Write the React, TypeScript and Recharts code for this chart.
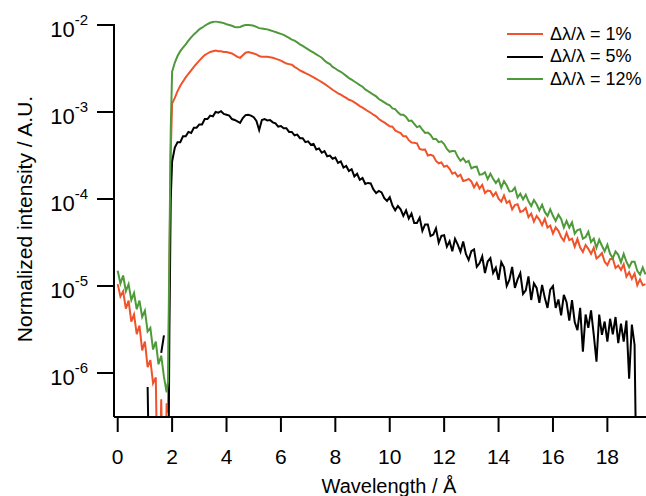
import { LineChart, Line, XAxis, YAxis, Legend, ReferenceLine } from "recharts";

const FONT = '"Liberation Sans", Arial, Helvetica, sans-serif';

// wavelength grid (Å)
const wavelength = [
  0, 0.1, 0.2, 0.3, 0.4, 0.5, 0.6, 0.7, 0.8, 0.9,
  1.0, 1.1, 1.2, 1.3, 1.4, 1.5, 1.6, 1.7, 1.8, 1.85, 1.9, 1.95,
  2.0, 2.1, 2.2, 2.3, 2.4, 2.5, 2.6, 2.7, 2.8, 2.9,
  3.0, 3.1, 3.2, 3.3, 3.4, 3.5, 3.6, 3.7, 3.8, 3.9,
  4.0, 4.1, 4.2, 4.3, 4.4, 4.5, 4.6, 4.7, 4.8, 4.9,
  5.0, 5.1, 5.2, 5.3, 5.4, 5.5, 5.6, 5.7, 5.8, 5.9,
  6.0, 6.1, 6.2, 6.3, 6.4, 6.5, 6.6, 6.7, 6.8, 6.9,
  7.0, 7.1, 7.2, 7.3, 7.4, 7.5, 7.6, 7.7, 7.8, 7.9,
  8.0, 8.1, 8.2, 8.3, 8.4, 8.5, 8.6, 8.7, 8.8, 8.9,
  9.0, 9.1, 9.2, 9.3, 9.4, 9.5, 9.6, 9.7, 9.8, 9.9,
  10.0, 10.1, 10.2, 10.3, 10.4, 10.5, 10.6, 10.7, 10.8, 10.9,
  11.0, 11.1, 11.2, 11.3, 11.4, 11.5, 11.6, 11.7, 11.8, 11.9,
  12.0, 12.1, 12.2, 12.3, 12.4, 12.5, 12.6, 12.7, 12.8, 12.9,
  13.0, 13.1, 13.2, 13.3, 13.4, 13.5, 13.6, 13.7, 13.8, 13.9,
  14.0, 14.1, 14.2, 14.3, 14.4, 14.5, 14.6, 14.7, 14.8, 14.9,
  15.0, 15.1, 15.2, 15.3, 15.4, 15.5, 15.6, 15.7, 15.8, 15.9,
  16.0, 16.1, 16.2, 16.3, 16.4, 16.5, 16.6, 16.7, 16.8, 16.9,
  17.0, 17.1, 17.2, 17.3, 17.4, 17.5, 17.6, 17.7, 17.8, 17.9,
  18.0, 18.1, 18.2, 18.3, 18.4, 18.5, 18.6, 18.7, 18.8, 18.9,
  19.0, 19.1, 19.2, 19.3, 19.4,
];

// Δλ/λ = 1 %  (1e-8 = dropped below the axis floor)
const res1 = [
  1.05e-5, 7.6e-6, 8.7e-6, 5.5e-6, 6.8e-6, 3.9e-6, 4.7e-6, 2.8e-6, 3.5e-6, 1.82e-6,
  2.3e-6, 1.17e-6, 1.41e-6, 7.6e-7, 8.9e-7, 1e-8, 5e-7, 1e-8, 4.5e-7, 3.5e-7, 1.5e-5, 3.5e-4,
  1.25e-3, 1.45e-3, 1.74e-3, 2.0e-3, 2.24e-3, 2.5e-3, 2.75e-3, 3.0e-3, 3.3e-3, 3.6e-3,
  3.9e-3, 4.2e-3, 4.5e-3, 4.7e-3, 4.9e-3, 5.0e-3, 5.1e-3, 5.0e-3, 5.0e-3, 4.9e-3,
  4.9e-3, 4.8e-3, 4.7e-3, 4.5e-3, 4.3e-3, 4.2e-3, 4.5e-3, 4.8e-3, 4.9e-3, 4.8e-3,
  4.7e-3, 4.6e-3, 4.4e-3, 4.3e-3, 4.3e-3, 4.3e-3, 4.25e-3, 4.2e-3, 4.1e-3, 4.0e-3,
  3.9e-3, 3.75e-3, 3.6e-3, 3.55e-3, 3.5e-3, 3.3e-3, 3.16e-3, 3.0e-3, 2.9e-3, 2.8e-3,
  2.7e-3, 2.6e-3, 2.5e-3, 2.4e-3, 2.3e-3, 2.2e-3, 2.1e-3, 2.0e-3, 1.9e-3, 1.8e-3,
  1.72e-3, 1.64e-3, 1.58e-3, 1.51e-3, 1.45e-3, 1.38e-3, 1.35e-3, 1.29e-3, 1.23e-3, 1.17e-3,
  1.12e-3, 1.07e-3, 1.02e-3, 9.8e-4, 9.3e-4, 8.9e-4, 8.3e-4, 7.9e-4, 7.6e-4, 7.2e-4,
  6.84e-4, 6.78e-4, 6.14e-4, 5.92e-4, 5.73e-4, 5.25e-4, 5.27e-4, 4.74e-4, 4.46e-4, 4.44e-4,
  4.37e-4, 3.77e-4, 3.68e-4, 3.7e-4, 3.16e-4, 3.22e-4, 3.13e-4, 2.74e-4, 2.57e-4, 2.63e-4,
  2.35e-4, 2.42e-4, 2.22e-4, 1.95e-4, 2.02e-4, 1.81e-4, 1.9e-4, 1.61e-4, 1.64e-4, 1.7e-4,
  1.59e-4, 1.36e-4, 1.53e-4, 1.32e-4, 1.45e-4, 1.17e-4, 1.25e-4, 1.23e-4, 1.08e-4, 1.19e-4,
  1.01e-4, 9.3e-5, 1.1e-4, 9.0e-5, 9.5e-5, 7.6e-5, 8.5e-5, 8.7e-5, 7.1e-5, 7.3e-5,
  7.9e-5, 6.2e-5, 6.8e-5, 5.5e-5, 6.4e-5, 5.8e-5, 5.0e-5, 5.9e-5, 4.7e-5, 4.95e-5,
  4.0e-5, 4.7e-5, 4.3e-5, 3.66e-5, 3.3e-5, 4.1e-5, 3.37e-5, 3.5e-5, 2.83e-5, 3.47e-5,
  2.77e-5, 2.46e-5, 2.96e-5, 2.67e-5, 2.34e-5, 2.75e-5, 2.07e-5, 2.2e-5, 2.39e-5, 1.9e-5,
  1.74e-5, 2.04e-5, 2.06e-5, 1.61e-5, 1.72e-5, 1.53e-5, 1.78e-5, 1.28e-5, 1.44e-5, 1.21e-5,
  1.39e-5, 1.02e-5, 1.19e-5, 1.02e-5, 1.05e-5,
];

// Δλ/λ = 5 %  (null = no counts)
const res5 = [
  null, null, null, null, null, null, null, null, null, null,
  null, 6.9e-7, 1e-8, null, null, null, 1.7e-6, 2.7e-6, null, 1e-8, 3e-6, 1.0e-4,
  2.7e-4, 3.9e-4, 4.5e-4, 4.5e-4, 5.25e-4, 5.25e-4, 5.9e-4, 5.75e-4, 6.6e-4, 6.6e-4,
  7.2e-4, 7.2e-4, 8.3e-4, 8.3e-4, 9.1e-4, 8.9e-4, 1.0e-3, 9.8e-4, 1.02e-3, 9.5e-4,
  9.3e-4, 9.1e-4, 8.3e-4, 8.1e-4, 7.8e-4, 7.5e-4, 8.5e-4, 9.2e-4, 9.3e-4, 9.1e-4,
  8.7e-4, 7.9e-4, 6.2e-4, 8.1e-4, 8.3e-4, 8.0e-4, 8.1e-4, 7.6e-4, 7.4e-4, 6.8e-4,
  6.9e-4, 6.5e-4, 6.5e-4, 5.9e-4, 5.9e-4, 5.4e-4, 5.5e-4, 5.0e-4, 5.0e-4, 4.5e-4,
  4.6e-4, 4.2e-4, 4.3e-4, 3.7e-4, 3.8e-4, 3.4e-4, 3.55e-4, 3.1e-4, 3.16e-4, 2.9e-4,
  3.0e-4, 2.6e-4, 2.7e-4, 2.3e-4, 2.4e-4, 2.1e-4, 2.2e-4, 1.82e-4, 1.95e-4, 1.66e-4,
  1.74e-4, 1.49e-4, 1.53e-4, 1.51e-4, 1.29e-4, 1.17e-4, 1.24e-4, 1.19e-4, 1.02e-4, 9.5e-5,
  1.05e-4, 8.4e-5, 7.4e-5, 8.3e-5, 7.6e-5, 6.4e-5, 7.4e-5, 5.96e-5, 6.8e-5, 5.3e-5,
  5.3e-5, 6.1e-5, 4.3e-5, 5.1e-5, 5.1e-5, 3.75e-5, 3.9e-5, 4.6e-5, 3.14e-5, 3.76e-5,
  3.84e-5, 2.83e-5, 3.27e-5, 2.51e-5, 3.48e-5, 2.99e-5, 2.48e-5, 3.24e-5, 2.33e-5, 1.99e-5,
  2.51e-5, 2.63e-5, 1.66e-5, 1.82e-5, 2.19e-5, 1.41e-5, 1.91e-5, 2.09e-5, 1.41e-5, 1.62e-5,
  1.18e-5, 1.88e-5, 1.64e-5, 1.0e-5, 1.18e-5, 1.66e-5, 9.5e-6, 1.19e-5, 1.4e-5, 8.1e-6,
  8.9e-6, 1.29e-5, 6.9e-6, 1.07e-5, 9.5e-6, 6.4e-6, 1.03e-5, 7.3e-6, 5.6e-6, 9.1e-6,
  1.0e-5, 5.6e-6, 7.0e-6, 4.6e-6, 7.9e-6, 6.5e-6, 4.0e-6, 6.9e-6, 3.85e-6, 3.1e-6,
  5.6e-6, 1.76e-6, 4.7e-6, 3.3e-6, 5.25e-6, 2.75e-6, 1.35e-6, 4.7e-6, 2.75e-6, 3.9e-6,
  2.29e-6, 4.2e-6, 2.79e-6, 4.4e-6, 2.2e-6, 3.7e-6, 2.3e-6, 4.0e-6, 8.6e-7, 3.6e-6,
  2.1e-6, 1e-8, null, null, null,
];

// Δλ/λ = 12 %
const res12 = [
  1.5e-5, 1.07e-5, 1.32e-5, 8.7e-6, 1.05e-5, 6.9e-6, 8.3e-6, 5.4e-6, 6.8e-6, 4.4e-6,
  5.2e-6, 3.0e-6, 3.3e-6, 1.86e-6, 2.3e-6, 1.26e-6, 1.58e-6, 9e-7, 6e-7, 8e-7, 2.5e-5, 6.3e-4,
  2.9e-3, 3.7e-3, 4.4e-3, 5.0e-3, 5.5e-3, 6.0e-3, 6.6e-3, 7.2e-3, 7.8e-3, 8.3e-3,
  8.9e-3, 9.3e-3, 9.8e-3, 1.02e-2, 1.06e-2, 1.08e-2, 1.1e-2, 1.08e-2, 1.07e-2, 1.05e-2,
  1.02e-2, 1.0e-2, 9.8e-3, 9.5e-3, 9.4e-3, 9.5e-3, 9.8e-3, 1.0e-2, 1.0e-2, 9.9e-3,
  9.8e-3, 9.5e-3, 9.2e-3, 9.1e-3, 9.0e-3, 8.9e-3, 8.7e-3, 8.5e-3, 8.3e-3, 8.1e-3,
  7.9e-3, 7.7e-3, 7.4e-3, 7.1e-3, 6.8e-3, 6.6e-3, 6.3e-3, 6.0e-3, 5.75e-3, 5.5e-3,
  5.25e-3, 5.0e-3, 4.8e-3, 4.6e-3, 4.4e-3, 4.2e-3, 3.9e-3, 3.7e-3, 3.55e-3, 3.3e-3,
  3.16e-3, 3.0e-3, 2.9e-3, 2.75e-3, 2.6e-3, 2.45e-3, 2.35e-3, 2.24e-3, 2.14e-3, 2.04e-3,
  1.95e-3, 1.82e-3, 1.74e-3, 1.66e-3, 1.58e-3, 1.51e-3, 1.41e-3, 1.35e-3, 1.29e-3, 1.23e-3,
  1.19e-3, 1.1e-3, 1.08e-3, 9.9e-4, 9.3e-4, 9.3e-4, 8.75e-4, 7.9e-4, 7.98e-4, 7.3e-4,
  6.7e-4, 6.9e-4, 6.25e-4, 5.75e-4, 5.8e-4, 5.45e-4, 4.9e-4, 4.9e-4, 4.5e-4, 4.6e-4,
  4.28e-4, 3.76e-4, 3.49e-4, 3.56e-4, 3.55e-4, 3.05e-4, 2.75e-4, 2.94e-4, 2.64e-4, 2.74e-4,
  2.25e-4, 2.33e-4, 2.35e-4, 1.9e-4, 1.92e-4, 2.03e-4, 1.69e-4, 1.95e-4, 1.71e-4, 1.53e-4,
  1.68e-4, 1.35e-4, 1.6e-4, 1.43e-4, 1.22e-4, 1.23e-4, 1.35e-4, 1.04e-4, 1.15e-4, 9.9e-5,
  1.12e-4, 9.4e-5, 8.3e-5, 9.7e-5, 8.7e-5, 7.4e-5, 8.6e-5, 7.1e-5, 6.4e-5, 7.6e-5,
  6.4e-5, 5.6e-5, 6.6e-5, 5.9e-5, 4.7e-5, 5.6e-5, 4.7e-5, 5.4e-5, 4.0e-5, 4.4e-5,
  4.5e-5, 3.5e-5, 3.65e-5, 4.2e-5, 3.2e-5, 3.5e-5, 2.75e-5, 3.4e-5, 2.9e-5, 2.5e-5,
  2.98e-5, 2.34e-5, 2.09e-5, 2.49e-5, 2.28e-5, 1.87e-5, 2.34e-5, 1.9e-5, 1.64e-5, 1.9e-5,
  1.9e-5, 1.49e-5, 1.35e-5, 1.63e-5, 1.36e-5,
];

const series = [
  { key: "r", name: "Δλ/λ = 1%", color: "#F0522A" },
  { key: "k", name: "Δλ/λ = 5%", color: "#000000" },
  { key: "g", name: "Δλ/λ = 12%", color: "#4E9A3A" },
];

const xTicks = [0, 2, 4, 6, 8, 10, 12, 14, 16, 18];
const yTicks = [1e-6, 1e-5, 1e-4, 1e-3, 1e-2];
const X_MIN = -0.136;
const Y_MIN = 3.12e-7;

const rows = wavelength.map((wl, i) => ({ wl, r: res1[i], k: res5[i], g: res12[i] }));

const XTick = ({ x, y, payload }: any) => (
  <text x={x} y={y + 32} textAnchor="middle" fontFamily={FONT} fontSize={21} fill="#000">
    {payload.value}
  </text>
);

const YTick = ({ x, y, payload }: any) => {
  const exp = Math.round(Math.log10(payload.value));
  return (
    <text x={x} y={y + 12} textAnchor="end" fontFamily={FONT} fill="#000">
      <tspan fontSize={22}>10</tspan>
      <tspan fontSize={15} dy={-12}>{exp}</tspan>
    </text>
  );
};

const renderLegend = () => (
  <div style={{ fontFamily: FONT, fontSize: 18, color: "#000" }}>
    {series.map((s) => (
      <div key={s.key} style={{ display: "flex", alignItems: "center", height: 22.5 }}>
        <svg width={36} height={22} style={{ marginRight: 7, flex: "none" }}>
          <line x1={0} y1={11} x2={36} y2={11} stroke={s.color} strokeWidth={2} />
        </svg>
        <span style={{ whiteSpace: "nowrap" }}>{s.name}</span>
      </div>
    ))}
  </div>
);

export default function App() {
  const axisStroke = { stroke: "#000", strokeWidth: 2 };
  return (
    <div style={{ position: "absolute", left: 0, top: 0, width: 646, height: 496, background: "#fff" }}>
      <LineChart width={646} height={496} data={rows} margin={{ top: 20.7, right: 0, bottom: 0, left: 0 }}>
        <XAxis
          dataKey="wl"
          type="number"
          domain={[X_MIN, 19.42]}
          allowDataOverflow
          ticks={xTicks}
          interval={0}
          height={79}
          tickSize={15}
          tickMargin={0}
          axisLine={axisStroke}
          tickLine={axisStroke}
          tick={<XTick />}
          label={() => (
            <text x={389} y={493} textAnchor="middle" fontFamily={FONT} fontSize={20} fill="#000">
              Wavelength / Å
            </text>
          )}
        />
        <YAxis
          type="number"
          scale="log"
          domain={[Y_MIN, 1.12e-2]}
          allowDataOverflow
          ticks={yTicks}
          interval={0}
          width={114}
          tickSize={17}
          tickMargin={9}
          axisLine={false}
          tickLine={axisStroke}
          tick={<YTick />}
          label={() => (
            <text
              x={32}
              y={219}
              transform="rotate(-90 32 219)"
              textAnchor="middle"
              fontFamily={FONT}
              fontSize={21}
              fill="#000"
            >
              Normalized intensity / A.U.
            </text>
          )}
        />
        <ReferenceLine
          segment={[{ x: X_MIN, y: Y_MIN }, { x: X_MIN, y: 1.025e-2 }]}
          stroke="#000"
          strokeWidth={2}
          ifOverflow="visible"
        />
        <Legend
          layout="vertical"
          verticalAlign="middle"
          align="center"
          content={renderLegend}
          wrapperStyle={{ position: "absolute", left: 507, top: 23, width: 139, height: 68 }}
        />
        {series.map((s) => (
          <Line
            key={s.key}
            type="linear"
            dataKey={s.key}
            name={s.name}
            stroke={s.color}
            strokeWidth={2}
            dot={false}
            connectNulls={false}
            isAnimationActive={false}
          />
        ))}
      </LineChart>
    </div>
  );
}
